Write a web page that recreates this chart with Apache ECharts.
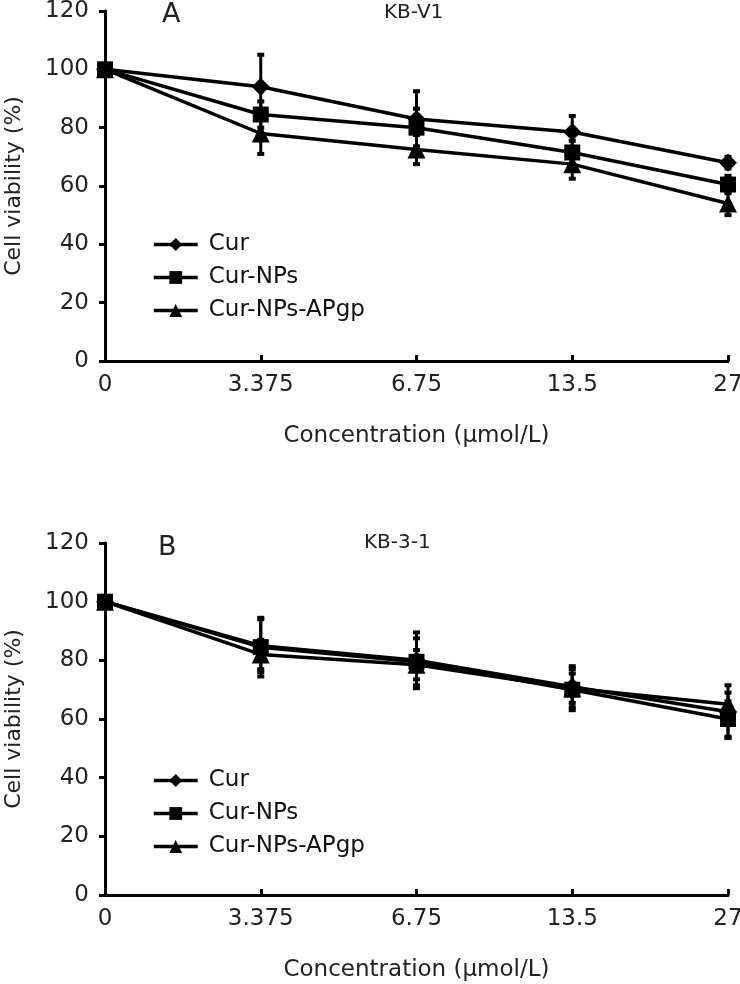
<!DOCTYPE html>
<html>
<head>
<meta charset="utf-8">
<script src="https://cdn.jsdelivr.net/npm/echarts@6/dist/echarts.min.js"></script>
<style>
html,body{margin:0;padding:0;background:#fff;}
#chart{width:740px;height:984px;}
</style>
</head>
<body>
<div id="chart"></div>
<script>
// ---- data ----
const concentrations = ['0', '3.375', '6.75', '13.5', '27'];
const seriesNames = ['Cur', 'Cur-NPs', 'Cur-NPs-APgp'];
const yTicks = [0, 20, 40, 60, 80, 100, 120];

// Panel A: KB-V1
const kbv1Cur = [100, 94, 83, 78.5, 68];
const kbv1CurErr = [1, 11, 9.5, 5.5, 2];
const kbv1NPs = [100, 84.5, 80, 71.5, 60.5];
const kbv1NPsErr = [1, 4.5, 6.5, 4, 3];
const kbv1APgp = [100, 78, 72.5, 67.5, 54];
const kbv1APgpErr = [1, 7, 5, 5, 4];

// Panel B: KB-3-1
const kb31Cur = [100, 85, 80, 71, 62.5];
const kb31CurErr = [1, 9, 9.5, 7, 9];
const kb31NPs = [100, 84.5, 79.5, 70, 60];
const kb31NPsErr = [1, 10, 8, 7, 6];
const kb31APgp = [100, 82, 78.5, 70.5, 65];
const kb31APgpErr = [1, 5, 5, 5, 4];

const FONT = 'DejaVu Sans';
const symbols = ['diamond', 'rect', 'triangle'];
const symbolSizes = [18, 16, 18];

function errorBarSeries(vals, errs, idx) {
  return {
    type: 'custom',
    xAxisIndex: idx, yAxisIndex: idx,
    z: 1,
    silent: true,
    clip: false,
    data: vals.map((v, i) => [i, v, errs[i]]),
    renderItem: function (params, api) {
      const x = api.value(0), y = api.value(1), e = api.value(2);
      const top = api.coord([x, y + e]);
      const bot = api.coord([x, y - e]);
      const hw = 3.5;
      return {
        type: 'group',
        children: [
          { type: 'line', shape: { x1: top[0], y1: top[1], x2: bot[0], y2: bot[1] }, style: { stroke: '#000', lineWidth: 3 } },
          { type: 'line', shape: { x1: top[0] - hw, y1: top[1], x2: top[0] + hw, y2: top[1] }, style: { stroke: '#000', lineWidth: 4 } },
          { type: 'line', shape: { x1: bot[0] - hw, y1: bot[1], x2: bot[0] + hw, y2: bot[1] }, style: { stroke: '#000', lineWidth: 4 } }
        ]
      };
    }
  };
}

function lineSeries(name, vals, k, idx) {
  return {
    name: name,
    type: 'line',
    xAxisIndex: idx, yAxisIndex: idx,
    z: 3,
    data: vals,
    symbol: symbols[k],
    symbolSize: symbolSizes[k],
    clip: false,
    lineStyle: { color: '#000', width: 3.5 },
    itemStyle: { color: '#000' },
    animation: false
  };
}

const panels = [
  { vals: [kbv1Cur, kbv1NPs, kbv1APgp], errs: [kbv1CurErr, kbv1NPsErr, kbv1APgpErr] },
  { vals: [kb31Cur, kb31NPs, kb31APgp], errs: [kb31CurErr, kb31NPsErr, kb31APgpErr] }
];

const series = [];
panels.forEach((p, idx) => {
  p.vals.forEach((v, k) => series.push(errorBarSeries(v, p.errs[k], idx)));
  p.vals.forEach((v, k) => series.push(lineSeries(seriesNames[k], v, k, idx)));
});

function xAxis(idx) {
  return {
    type: 'category',
    gridIndex: idx,
    data: concentrations,
    boundaryGap: false,
    axisLine: { lineStyle: { color: '#000', width: 3 } },
    axisTick: { inside: true, length: 6, lineStyle: { color: '#000', width: 3 } },
    axisLabel: { fontFamily: FONT, fontSize: 23, color: '#222', margin: 13 },
    splitLine: { show: false },
    name: 'Concentration (\u03bcmol/L)',
    nameLocation: 'middle',
    nameGap: 64,
    nameTextStyle: { fontFamily: FONT, fontSize: 23, color: '#222' }
  };
}

function yAxis(idx) {
  return {
    type: 'value',
    gridIndex: idx,
    min: yTicks[0], max: yTicks[yTicks.length - 1], interval: 20,
    axisLine: { show: true, lineStyle: { color: '#000', width: 3 } },
    axisTick: { show: true, length: 6, lineStyle: { color: '#000', width: 3 } },
    axisLabel: { fontFamily: FONT, fontSize: 23, color: '#222', margin: 16 },
    splitLine: { show: false },
    name: 'Cell viability (%)',
    nameLocation: 'middle',
    nameGap: 80,
    nameTextStyle: { fontFamily: FONT, fontSize: 22, color: '#222' }
  };
}

function legend(top) {
  return {
    data: seriesNames,
    orient: 'vertical',
    left: 147, top: top,
    itemGap: 10,
    itemWidth: 44, itemHeight: 16,
    selectedMode: false,
    lineStyle: { width: 3.5, color: '#000' },
    textStyle: { fontFamily: FONT, fontSize: 23, color: '#111', padding: [0, 0, 0, 6] }
  };
}

const chart = echarts.init(document.getElementById('chart'), null, { renderer: 'canvas' });
chart.setOption({
  animation: false,
  backgroundColor: '#fff',
  grid: [
    { left: 105, right: 12, top: 11, height: 350, containLabel: false, outerBoundsMode: 'none' },
    { left: 105, right: 12, top: 543, height: 352, containLabel: false, outerBoundsMode: 'none' }
  ],
  xAxis: [xAxis(0), xAxis(1)],
  yAxis: [yAxis(0), yAxis(1)],
  legend: [legend(228), legend(764)],
  graphic: [
    { type: 'text', left: 162, top: 1, style: { text: 'A', font: '27px "DejaVu Sans"', fill: '#222' } },
    { type: 'text', left: 384, top: 3, style: { text: 'KB-V1', font: '20px "DejaVu Sans"', fill: '#222' } },
    { type: 'text', left: 158, top: 534, style: { text: 'B', font: '27px "DejaVu Sans"', fill: '#222' } },
    { type: 'text', left: 364, top: 533, style: { text: 'KB-3-1', font: '20px "DejaVu Sans"', fill: '#222' } }
  ],
  series: series
});
</script>
</body>
</html>
